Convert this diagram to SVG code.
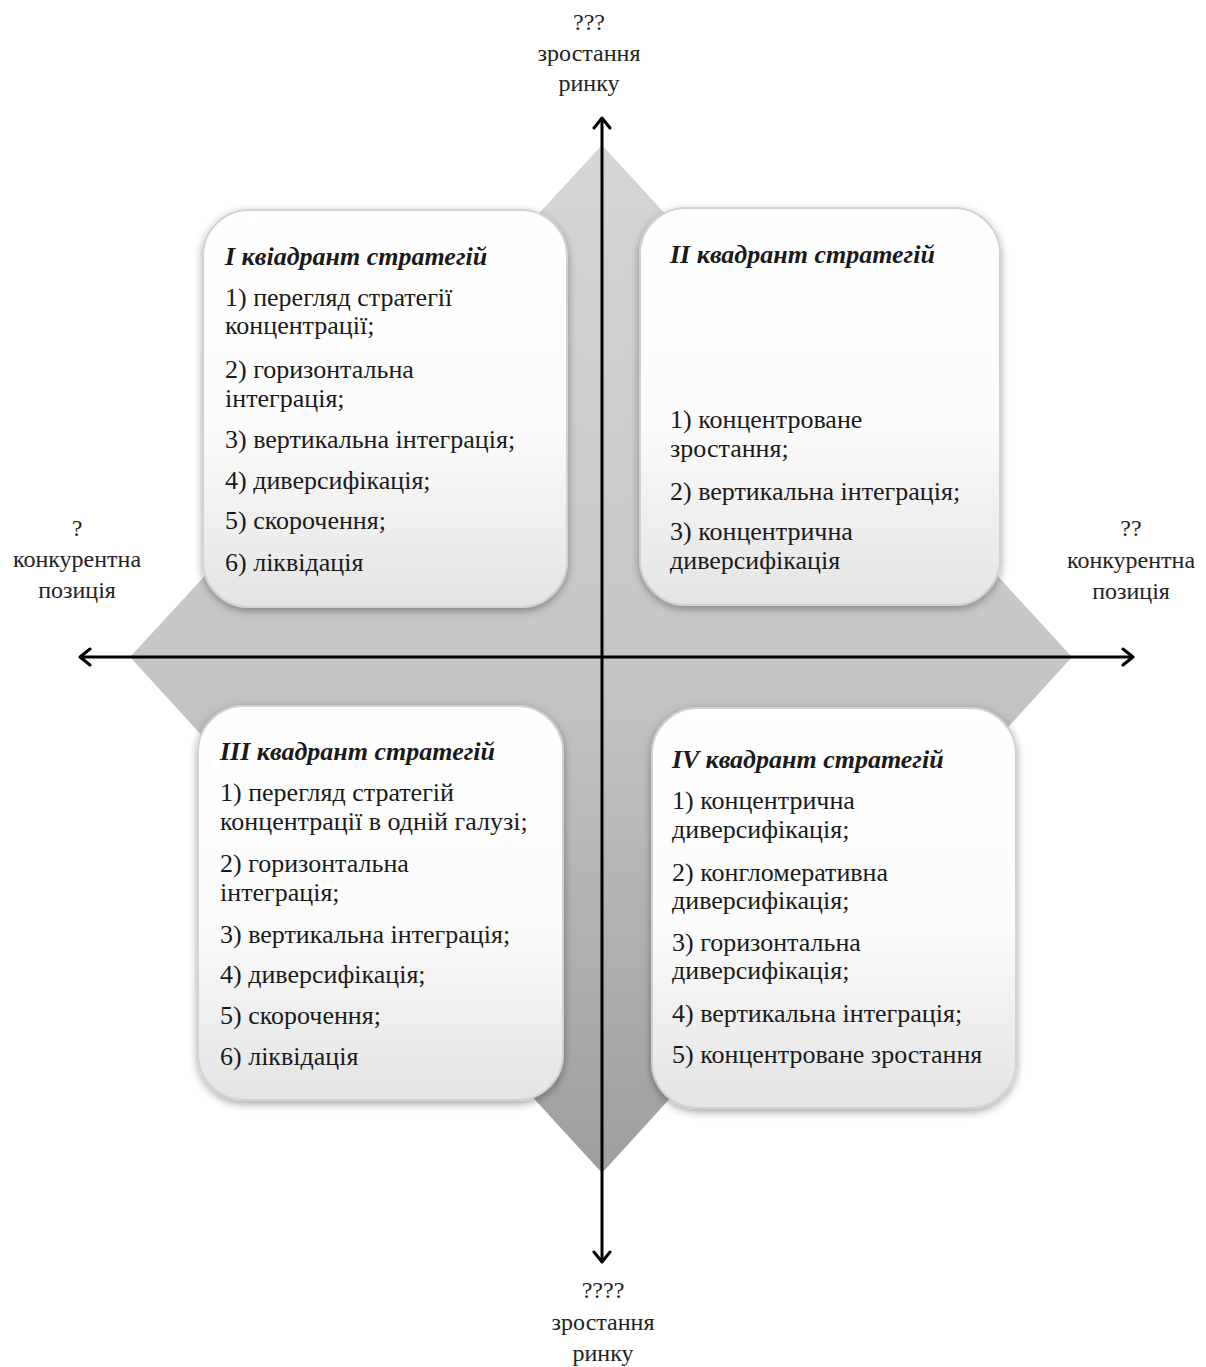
<svg xmlns="http://www.w3.org/2000/svg" width="1206" height="1367" viewBox="0 0 1206 1367">
<defs>
<linearGradient id="dia" x1="0" y1="0" x2="0" y2="1">
<stop offset="0" stop-color="#d6d6d6"/>
<stop offset="0.5" stop-color="#c6c6c6"/>
<stop offset="1" stop-color="#9e9e9e"/>
</linearGradient>
<linearGradient id="box" x1="0" y1="0" x2="0" y2="1">
<stop offset="0" stop-color="#ffffff"/>
<stop offset="0.55" stop-color="#fbfbfb"/>
<stop offset="1" stop-color="#e4e4e4"/>
</linearGradient>
<filter id="sh" x="-10%" y="-10%" width="120%" height="120%">
<feDropShadow dx="0" dy="3" stdDeviation="4" flood-color="#000" flood-opacity="0.35"/>
</filter>
<marker id="ah" viewBox="0 0 14 20" refX="12" refY="10" markerWidth="14" markerHeight="20" markerUnits="userSpaceOnUse" orient="auto-start-reverse">
<path d="M2,2 L12,10 L2,18" fill="none" stroke="#000" stroke-width="3" stroke-linecap="round" stroke-linejoin="round"/>
</marker>
<style>
.bx{fill:url(#box);stroke:#d2d2d2;stroke-width:2;filter:url(#sh)}
.t{font-family:"Liberation Serif","DejaVu Serif",serif;font-size:26px;fill:#1a1a1a}
.h{font-family:"Liberation Serif","DejaVu Serif",serif;font-size:26px;font-weight:bold;font-style:italic;fill:#1a1a1a}
.a{font-family:"Liberation Serif","DejaVu Serif",serif;font-size:24px;fill:#222;text-anchor:middle}
.ax{stroke:#000;stroke-width:3;fill:none;marker-end:url(#ah);marker-start:url(#ah)}
</style>
</defs>
<rect width="1206" height="1367" fill="#fff"/>
<polygon id="diamond" points="602,145 1072,657 602,1173 130,657" fill="url(#dia)"/>

<g id="q1">
<rect class="bx" x="203" y="210" width="364" height="397" rx="46"/>
<text class="h" x="225" y="265">I квіадрант стратегій</text>
<text class="t" x="225" y="306">1) перегляд стратегії</text>
<text class="t" x="225" y="334">концентрації;</text>
<text class="t" x="225" y="378">2) горизонтальна</text>
<text class="t" x="225" y="407">інтеграція;</text>
<text class="t" x="225" y="448">3) вертикальна інтеграція;</text>
<text class="t" x="225" y="489">4) диверсифікація;</text>
<text class="t" x="225" y="529">5) скорочення;</text>
<text class="t" x="225" y="571">6) ліквідація</text>
</g>

<g id="q2">
<rect class="bx" x="640" y="208" width="360" height="397" rx="46"/>
<text class="h" x="670" y="263">II квадрант стратегій</text>
<text class="t" x="670" y="428">1) концентроване</text>
<text class="t" x="670" y="457">зростання;</text>
<text class="t" x="670" y="500">2) вертикальна інтеграція;</text>
<text class="t" x="670" y="540">3) концентрична</text>
<text class="t" x="670" y="569">диверсифікація</text>
</g>

<g id="q3">
<rect class="bx" x="198" y="706" width="365" height="394" rx="46"/>
<text class="h" x="220" y="760">III квадрант стратегій</text>
<text class="t" x="220" y="801">1) перегляд стратегій</text>
<text class="t" x="220" y="830">концентрації в одній галузі;</text>
<text class="t" x="220" y="872">2) горизонтальна</text>
<text class="t" x="220" y="901">інтеграція;</text>
<text class="t" x="220" y="943">3) вертикальна інтеграція;</text>
<text class="t" x="220" y="983">4) диверсифікація;</text>
<text class="t" x="220" y="1024">5) скорочення;</text>
<text class="t" x="220" y="1065">6) ліквідація</text>
</g>

<g id="q4">
<rect class="bx" x="652" y="708" width="364" height="400" rx="46"/>
<text class="h" x="672" y="768">IV квадрант стратегій</text>
<text class="t" x="672" y="809">1) концентрична</text>
<text class="t" x="672" y="838">диверсифікація;</text>
<text class="t" x="672" y="881">2) конгломеративна</text>
<text class="t" x="672" y="909">диверсифікація;</text>
<text class="t" x="672" y="951">3) горизонтальна</text>
<text class="t" x="672" y="979">диверсифікація;</text>
<text class="t" x="672" y="1022">4) вертикальна інтеграція;</text>
<text class="t" x="672" y="1063">5) концентроване зростання</text>
</g>

<g id="connectors">
<line class="ax" x1="602" y1="1262" x2="602" y2="118"/>
<line class="ax" x1="80" y1="657" x2="1133" y2="657"/>
</g>

<g id="label-top">
<text class="a" x="589" y="30">???</text>
<text class="a" x="589" y="61">зростання</text>
<text class="a" x="589" y="91">ринку</text>
</g>
<g id="label-bottom">
<text class="a" x="603" y="1298">????</text>
<text class="a" x="603" y="1330">зростання</text>
<text class="a" x="603" y="1361">ринку</text>
</g>
<g id="label-left">
<text class="a" x="77" y="536">?</text>
<text class="a" x="77" y="567">конкурентна</text>
<text class="a" x="77" y="598">позиція</text>
</g>
<g id="label-right">
<text class="a" x="1131" y="536">??</text>
<text class="a" x="1131" y="568">конкурентна</text>
<text class="a" x="1131" y="599">позиція</text>
</g>
</svg>
